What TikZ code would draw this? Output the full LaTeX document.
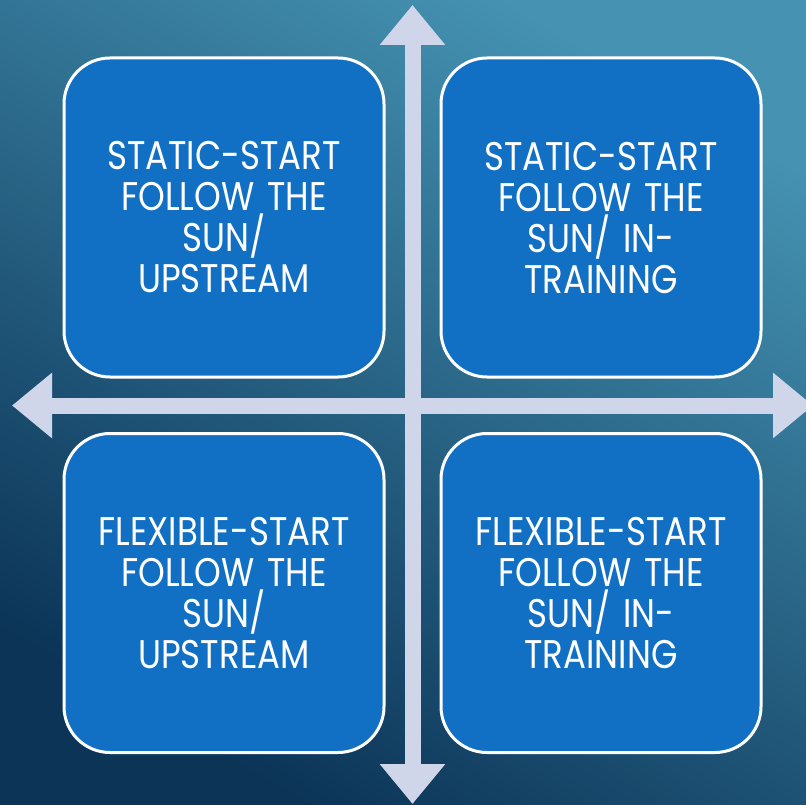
\documentclass[tikz,border=0pt]{standalone}
\usepackage{fontspec}
\newfontfamily\boxfont[FakeStretch=0.85, WordSpace=1.4]{Poppins}
\usetikzlibrary{arrows.meta}
\definecolor{bgtop}{HTML}{4592B2}
\definecolor{bgbottom}{HTML}{0B3457}
\definecolor{boxblue}{HTML}{1170C4}
\definecolor{axiscol}{HTML}{CFD6EA}
\tikzset{
  quadrant/.style={draw=white, line width=3pt, fill=boxblue, rounded corners=46pt,
    minimum width=320pt, minimum height=319pt, text=white, align=center,
    font=\boxfont\fontsize{40}{41}\selectfont, inner sep=0pt},
  axis/.style={draw=axiscol, line width=16pt,
    {Triangle[length=40pt,width=63pt]}-{Triangle[length=40pt,width=63pt]}}
}
\begin{document}
\begin{tikzpicture}[x=1pt,y=-1pt]
  % backdrop with a diagonal blue gradient
  \useasboundingbox (0,0) rectangle (806,805);
  \shade[top color=bgtop, bottom color=bgbottom, shading angle=-30] (0,0) rectangle (806,805);

  % the four quadrants
  \node[quadrant] (tl) at (224,217.5) {STATIC-START\\FOLLOW THE\\SUN/\\UPSTREAM};
  \node[quadrant] (tr) at (601,217.5) {STATIC-START\\FOLLOW THE\\SUN/ IN-\\TRAINING};
  \node[quadrant] (bl) at (224,593) {FLEXIBLE-START\\FOLLOW THE\\SUN/\\UPSTREAM};
  \node[quadrant] (br) at (601,593) {FLEXIBLE-START\\FOLLOW THE\\SUN/ IN-\\TRAINING};

  % crossing axes
  \coordinate (vtop) at (412.5,5);
  \coordinate (vbot) at (412.5,804);
  \coordinate (hleft) at (12,405.5);
  \coordinate (hright) at (813,405.5);
  \draw[axis] (vtop) -- (vbot);
  \draw[axis] (hleft) -- (hright);
\end{tikzpicture}
\end{document}
